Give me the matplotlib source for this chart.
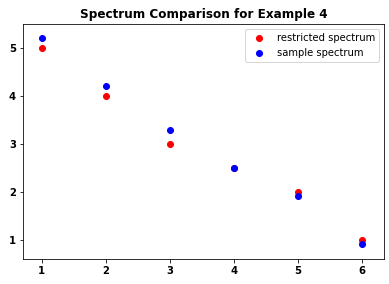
import matplotlib
matplotlib.use("Agg")
import matplotlib.pyplot as plt

# datos
x = [1, 2, 3, 4, 5, 6]
restricted = [5.0, 4.0, 3.0, 2.5, 2.0, 1.0]
sample = [5.2, 4.2, 3.3, 2.5, 1.92, 0.92]

fig = plt.figure(figsize=(389 / 72, 284 / 72), dpi=72)
ax = fig.add_axes([23 / 389, 25 / 284, 361 / 389, 235 / 284])

ax.scatter(x, restricted, color="red", label="restricted spectrum")
ax.scatter(x, sample, color="blue", label="sample spectrum")
ax.set_xlim(0.71, 6.34)
ax.set_ylim(0.6, 5.5)
ax.set_title("Spectrum Comparison for Example 4", fontsize=12, fontweight="semibold")
for lbl in ax.get_xticklabels() + ax.get_yticklabels():
    lbl.set_fontweight("semibold")
ax.legend(loc="upper right")

fig.savefig("out.png", dpi=72)
